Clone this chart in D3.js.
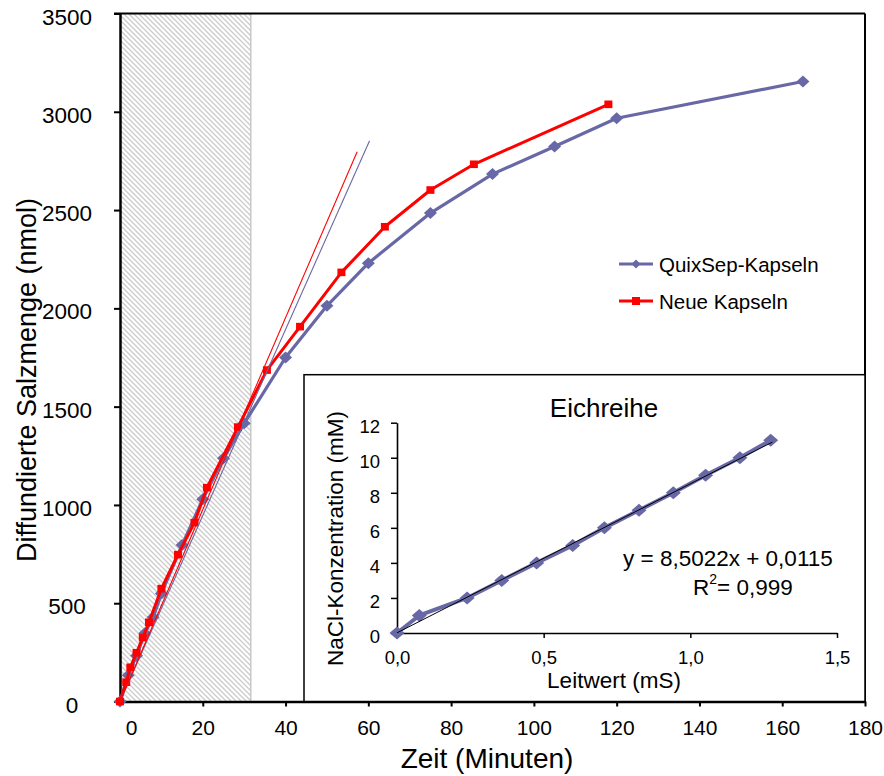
<!DOCTYPE html>
<html>
<head>
<meta charset="utf-8">
<script src="https://cdn.jsdelivr.net/npm/d3@7"></script>
<style>
  html, body { margin: 0; padding: 0; background: #fff; }
  svg { display: block; }
  text { font-family: "Liberation Sans", Arial, sans-serif; fill: #000; }
</style>
</head>
<body>
<svg id="chart" width="884" height="776"></svg>
<script>
// ---------------- data ----------------
const quixTime  = [0, 2, 4, 6, 8, 10, 15, 20, 25, 30, 40, 50, 60, 75, 90, 105, 120, 165];
const quixValue = [0, 134, 233, 347, 428, 550, 796, 1029, 1237, 1415, 1750, 2013, 2230, 2485, 2683, 2823, 2967, 3154];
const neueTime  = [0, 1.5, 2.5, 4, 5.5, 7, 10, 14, 18, 21, 28.5, 35.5, 43.5, 53.5, 64, 75, 85.5, 118];
const neueValue = [0, 98, 174, 248, 325, 403, 574, 747, 910, 1088, 1396, 1686, 1907, 2183, 2415, 2602, 2733, 3038];
// initial-slope lines (start, end)
const quixTangent = [[0, 0], [60.3, 2853]];
const neueTangent = [[0, 0], [57.3, 2797]];
const shadedUntil = 31.6; // minutes
const seriesNames = ["QuixSep-Kapseln", "Neue Kapseln"];
const xTicks = [0, 20, 40, 60, 80, 100, 120, 140, 160, 180];
const yTicks = [0, 500, 1000, 1500, 2000, 2500, 3000, 3500];

// inset (calibration)
const leitwert = [0, 0.076, 0.239, 0.357, 0.476, 0.599, 0.707, 0.825, 0.942, 1.052, 1.169, 1.274];
const nacl     = [0, 1, 2, 3, 4, 5, 6, 7, 8, 9, 10, 11];
const fitSlope = 8.5022, fitIntercept = 0.0115, fitRange = [0, 1.28];
const insetXTicks = [0, 0.5, 1.0, 1.5];
const insetYTicks = [0, 2, 4, 6, 8, 10, 12];

// ---------------- styles ----------------
const blue = "#6868a6", red = "#ff0000";

const svg = d3.select("#chart");

// main scales
const x = d3.scaleLinear().domain([0, 180]).range([120, 865]);
const y = d3.scaleLinear().domain([0, 3500]).range([701.5, 13.5]);

// hatch pattern
const defs = svg.append("defs");
const pat = defs.append("pattern").attr("id", "hatch").attr("patternUnits", "userSpaceOnUse")
  .attr("width", 5).attr("height", 5);
pat.append("rect").attr("width", 5).attr("height", 5).attr("fill", "#ffffff");
pat.append("path").attr("d", "M-1,-1 L6,6 M-1,4 L1,6 M4,-1 L6,1")
  .attr("stroke", "#cbcbcb").attr("stroke-width", 1.3);

svg.append("rect")
  .attr("x", x(0)).attr("y", y(3500))
  .attr("width", x(shadedUntil) - x(0)).attr("height", y(0) - y(3500))
  .attr("fill", "url(#hatch)");
svg.append("line")
  .attr("x1", x(shadedUntil)).attr("x2", x(shadedUntil))
  .attr("y1", y(3500)).attr("y2", y(0))
  .attr("stroke", "#c8c8c8").attr("stroke-width", 1.5);

// frame: top and right borders
svg.append("line").attr("x1", 114).attr("x2", x(180)).attr("y1", y(3500)).attr("y2", y(3500))
  .attr("stroke", "#000").attr("stroke-width", 2);
svg.append("line").attr("x1", x(180)).attr("x2", x(180)).attr("y1", y(3500)).attr("y2", y(0))
  .attr("stroke", "#000").attr("stroke-width", 2);

// axes
const xAxis = svg.append("g").attr("transform", `translate(0,${y(0)})`)
  .call(d3.axisBottom(x).tickValues(xTicks).tickSize(5).tickSizeOuter(0).tickFormat(d3.format("d")));
xAxis.select(".domain").attr("stroke", "#000").attr("stroke-width", 2.5);
xAxis.selectAll(".tick line").attr("stroke", "#000").attr("stroke-width", 2)
  .attr("opacity", d => d === 0 ? 0 : 1);
xAxis.selectAll(".tick text").attr("y", 0).attr("dy", 0)
  .attr("transform", d => `translate(${d === 0 ? 11 : 0},26)`)
  .attr("dominant-baseline", "central")
  .style("font-family", "'Liberation Sans', Arial, sans-serif").style("font-size", "21px");

const yAxis = svg.append("g").attr("transform", `translate(${x(0)},0)`)
  .call(d3.axisLeft(y).tickValues(yTicks).tickSize(6).tickSizeOuter(0).tickFormat(d3.format("d")));
yAxis.select(".domain").attr("stroke", "#000").attr("stroke-width", 2.5);
yAxis.selectAll(".tick line").attr("stroke", "#000").attr("stroke-width", 2);
yAxis.selectAll(".tick text")
  .attr("x", d => (d === 0 ? 72 : 67) - 120).attr("dy", 0).attr("y", 3)
  .attr("text-anchor", "middle").attr("dominant-baseline", "central")
  .style("font-family", "'Liberation Sans', Arial, sans-serif").style("font-size", "22.5px");

// axis titles
svg.append("text").text("Zeit (Minuten)")
  .attr("x", 487).attr("y", 758).attr("text-anchor", "middle").attr("dominant-baseline", "central")
  .style("font-size", "28px");
svg.append("text").text("Diffundierte Salzmenge (nmol)")
  .attr("transform", "translate(27,380) rotate(-90)")
  .attr("text-anchor", "middle").attr("dominant-baseline", "central")
  .style("font-size", "27px");

// series
const line = d3.line().x(d => x(d[0])).y(d => y(d[1]));
const quix = quixTime.map((t, i) => [t, quixValue[i]]);
const neue = neueTime.map((t, i) => [t, neueValue[i]]);

function diamond(w, h) { return `M0,${-h} L${w},0 L0,${h} L${-w},0 Z`; }

svg.append("path").datum(quix).attr("d", line).attr("fill", "none")
  .attr("stroke", blue).attr("stroke-width", 3.2).attr("stroke-linejoin", "round");
svg.append("g").selectAll("path").data(quix).join("path")
  .attr("transform", d => `translate(${x(d[0])},${y(d[1])})`)
  .attr("d", diamond(6.5, 6)).attr("fill", blue);

svg.append("path").datum(neue).attr("d", line).attr("fill", "none")
  .attr("stroke", red).attr("stroke-width", 3).attr("stroke-linejoin", "round");
svg.append("g").selectAll("rect").data(neue).join("rect")
  .attr("x", d => x(d[0]) - 4).attr("y", d => y(d[1]) - 3.8)
  .attr("width", 8).attr("height", 7.6).attr("fill", red);

// tangent lines
svg.append("path").datum(quixTangent).attr("d", line).attr("stroke", blue).attr("stroke-width", 1.1).attr("fill", "none");
svg.append("path").datum(neueTangent).attr("d", line).attr("stroke", red).attr("stroke-width", 1.1).attr("fill", "none");

// legend
const legend = svg.append("g");
const legItems = [
  { name: seriesNames[0], color: blue, y: 264, marker: "diamond" },
  { name: seriesNames[1], color: red, y: 301, marker: "square" }
];
legItems.forEach(it => {
  legend.append("line").attr("x1", 619).attr("x2", 653).attr("y1", it.y).attr("y2", it.y)
    .attr("stroke", it.color).attr("stroke-width", 3);
  if (it.marker === "diamond") {
    legend.append("path").attr("transform", `translate(636,${it.y})`).attr("d", diamond(4.5, 4.5)).attr("fill", it.color);
  } else {
    legend.append("rect").attr("x", 632).attr("y", it.y - 4).attr("width", 8).attr("height", 8).attr("fill", it.color);
  }
  legend.append("text").text(it.name).attr("x", 659).attr("y", it.y)
    .attr("dominant-baseline", "central").style("font-size", "20.5px");
});

// ---------------- inset ----------------
const inset = svg.append("g");
inset.append("rect").attr("x", 304).attr("y", 374.7).attr("width", 865 - 304).attr("height", 701.5 - 374.7)
  .attr("fill", "#fff").attr("stroke", "#000").attr("stroke-width", 1.5);

const ix = d3.scaleLinear().domain([0, 1.5]).range([397, 837]);
const iy = d3.scaleLinear().domain([0, 12]).range([633, 422.7]);
const commaFmt = d => d3.format(".1f")(d).replace(".", ",");

const ixAxis = inset.append("g").attr("transform", `translate(0,${iy(0)})`)
  .call(d3.axisBottom(ix).tickValues(insetXTicks).tickSize(5).tickSizeOuter(0).tickFormat(commaFmt));
ixAxis.select(".domain").attr("stroke", "#000").attr("stroke-width", 1.6);
ixAxis.selectAll(".tick line").attr("stroke", "#000").attr("stroke-width", 1.5);
ixAxis.selectAll(".tick text").attr("y", 24).attr("dy", 0).attr("dominant-baseline", "central")
  .style("font-family", "'Liberation Sans', Arial, sans-serif").style("font-size", "18.5px");

const iyAxis = inset.append("g").attr("transform", `translate(${ix(0)},0)`)
  .call(d3.axisLeft(iy).tickValues(insetYTicks).tickSize(6).tickSizeOuter(0).tickFormat(d3.format("d")));
iyAxis.select(".domain").attr("stroke", "#000").attr("stroke-width", 1.6);
iyAxis.selectAll(".tick line").attr("stroke", "#000").attr("stroke-width", 1.5);
iyAxis.selectAll(".tick text").attr("x", -17).attr("dy", 0).attr("y", 3).attr("dominant-baseline", "central")
  .style("font-family", "'Liberation Sans', Arial, sans-serif").style("font-size", "18.5px");

const iline = d3.line().x(d => ix(d[0])).y(d => iy(d[1]));
const calib = leitwert.map((v, i) => [v, nacl[i]]);
inset.append("path").datum(calib).attr("d", iline).attr("fill", "none")
  .attr("stroke", blue).attr("stroke-width", 4).attr("stroke-linejoin", "round");
inset.append("g").selectAll("path").data(calib).join("path")
  .attr("transform", d => `translate(${ix(d[0])},${iy(d[1])})`)
  .attr("d", diamond(7.5, 6.5)).attr("fill", blue);
inset.append("path")
  .datum(fitRange.map(v => [v, fitSlope * v + fitIntercept]))
  .attr("d", iline).attr("stroke", "#000").attr("stroke-width", 1).attr("fill", "none");

inset.append("text").text("Eichreihe").attr("x", 604).attr("y", 408)
  .attr("text-anchor", "middle").attr("dominant-baseline", "central").style("font-size", "26px");
inset.append("text").text("Leitwert (mS)").attr("x", 614).attr("y", 680)
  .attr("text-anchor", "middle").attr("dominant-baseline", "central").style("font-size", "22.5px");
inset.append("text").text("NaCl-Konzentration (mM)")
  .attr("transform", "translate(335,538.5) rotate(-90)")
  .attr("text-anchor", "middle").attr("dominant-baseline", "central").style("font-size", "22.5px");

const eqText = "y = " + String(fitSlope).replace(".", ",") + "x + " + String(fitIntercept).replace(".", ",");
inset.append("text").text(eqText).attr("x", 623).attr("y", 558)
  .attr("dominant-baseline", "central").style("font-size", "22.5px");
const r2 = inset.append("text").attr("x", 693).attr("y", 587)
  .attr("dominant-baseline", "central").style("font-size", "22.5px");
r2.append("tspan").text("R");
r2.append("tspan").text("2").attr("dy", -8).style("font-size", "14px");
r2.append("tspan").text("= 0,999").attr("dy", 8);
</script>
</body>
</html>
